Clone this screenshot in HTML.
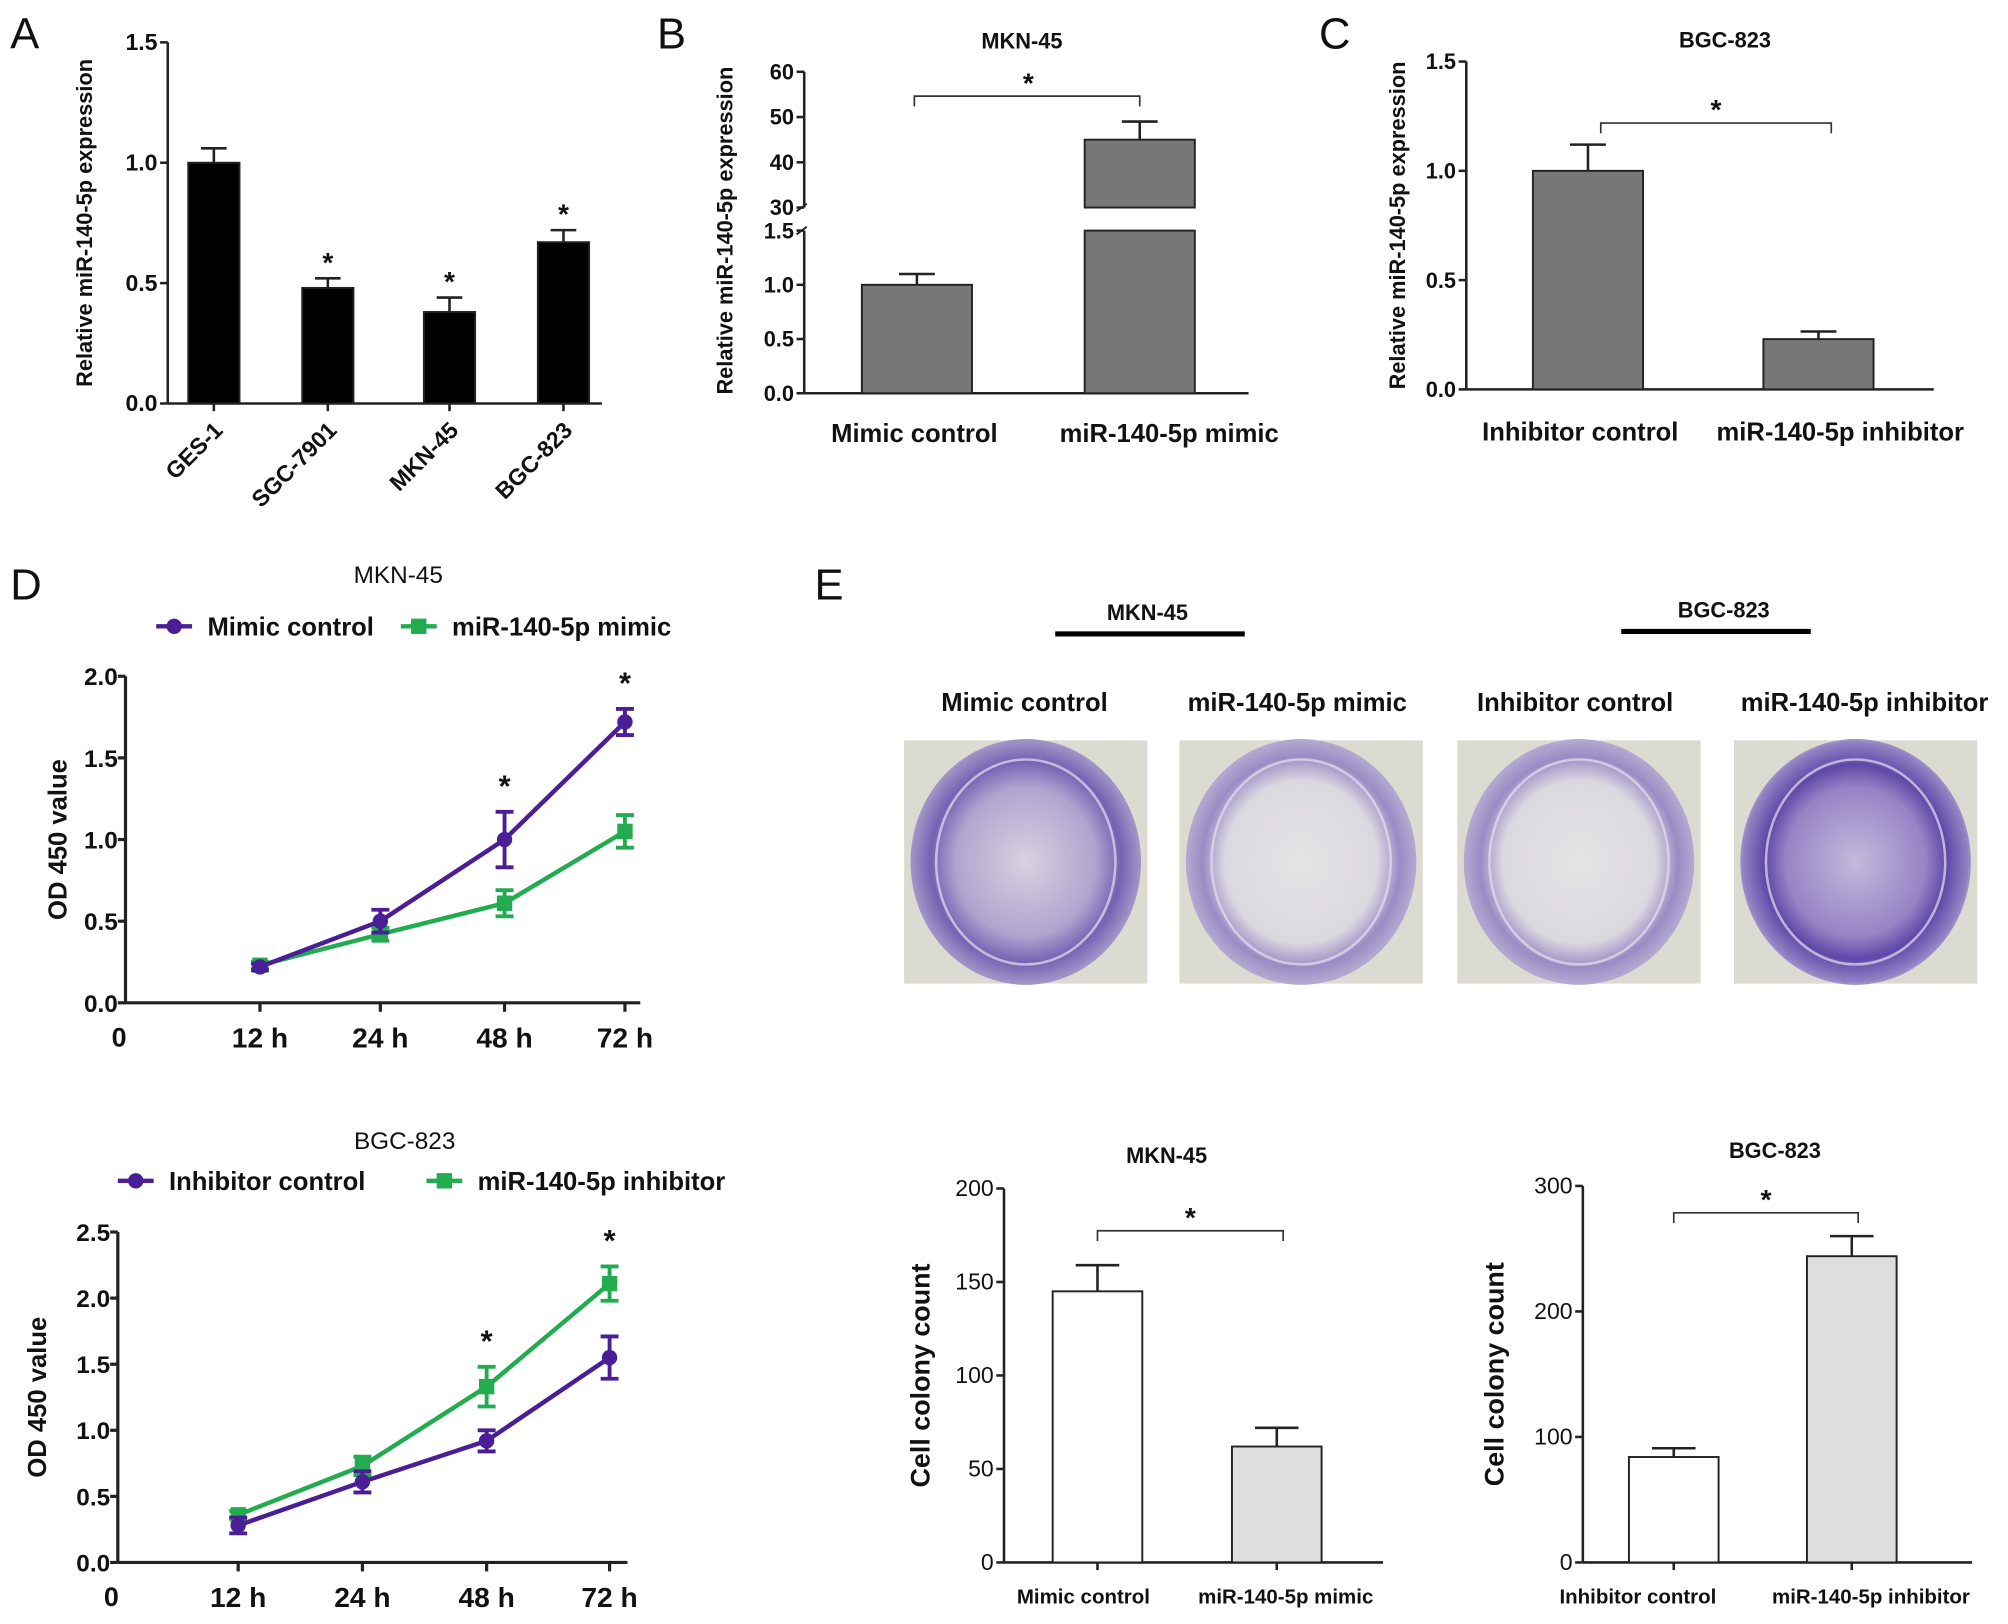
<!DOCTYPE html>
<html><head><meta charset="utf-8"><style>
html,body{margin:0;padding:0;background:#fff;}
svg{display:block;font-family:"Liberation Sans",Arial,sans-serif;}
</style></head><body>
<svg id="fig" width="2008" height="1624" viewBox="0 0 1568 1268" xmlns="http://www.w3.org/2000/svg">
<defs>
<radialGradient id="dishA" cx="50%" cy="50%" r="55%"><stop offset="0" stop-color="#d8d2e0"/><stop offset="0.55" stop-color="#b0a4cf"/><stop offset="0.75" stop-color="#7462b3"/><stop offset="0.9" stop-color="#a094c6"/><stop offset="1" stop-color="#cfcbd6"/></radialGradient>
<radialGradient id="dishB" cx="50%" cy="50%" r="55%"><stop offset="0" stop-color="#e6e3e6"/><stop offset="0.6" stop-color="#dcd8e0"/><stop offset="0.78" stop-color="#9a8cc4"/><stop offset="0.9" stop-color="#b2a8d0"/><stop offset="1" stop-color="#d6d4d2"/></radialGradient>
<radialGradient id="dishC" cx="50%" cy="50%" r="55%"><stop offset="0" stop-color="#c4b9dc"/><stop offset="0.55" stop-color="#9684c5"/><stop offset="0.72" stop-color="#5f48a8"/><stop offset="0.88" stop-color="#8f80c2"/><stop offset="1" stop-color="#d2cfd8"/></radialGradient>
</defs>
<g id="root"></g>
</svg>
<script>
// Panel A
const catsA = ["GES-1","SGC-7901","MKN-45","BGC-823"];
const valsA = [1.0,0.48,0.38,0.67];
const errsA = [0.06,0.04,0.06,0.05];
const sigA = [false,true,true,true];
const ticksA = [0.0,0.5,1.0,1.5];
// Panel B
const catsB = ["Mimic control","miR-140-5p mimic"];
const valsB = [1.0,45];
const errsB = [0.1,4];
const ticksBlow = [0.0,0.5,1.0,1.5];
const ticksBhigh = [30,40,50,60];
// Panel C
const catsC = ["Inhibitor control","miR-140-5p inhibitor"];
const valsC = [1.0,0.23];
const errsC = [0.12,0.035];
const ticksC = [0.0,0.5,1.0,1.5];
// Panel D top
const timesD = ["12 h","24 h","48 h","72 h"];
const d1Purple = [0.22,0.50,1.00,1.72];
const d1PurpleErr = [0.02,0.07,0.17,0.08];
const d1Green = [0.23,0.42,0.61,1.05];
const d1GreenErr = [0.02,0.04,0.08,0.10];
const d1Sig = [false,false,true,true];
const ticksD1 = [0.0,0.5,1.0,1.5,2.0];
// Panel D bottom
const d2Purple = [0.28,0.61,0.92,1.55];
const d2PurpleErr = [0.06,0.08,0.08,0.16];
const d2Green = [0.36,0.73,1.33,2.11];
const d2GreenErr = [0.03,0.07,0.15,0.13];
const d2Sig = [false,false,true,true];
const ticksD2 = [0.0,0.5,1.0,1.5,2.0,2.5];
// Panel E bars
const catsE1 = ["Mimic control","miR-140-5p mimic"];
const valsE1 = [145,62];
const errsE1 = [14,10];
const ticksE1 = [0,50,100,150,200];
const catsE2 = ["Inhibitor control","miR-140-5p inhibitor"];
const valsE2 = [84,244];
const errsE2 = [7,16];
const ticksE2 = [0,100,200,300];

const NS="http://www.w3.org/2000/svg";
const root=document.getElementById('root');
function el(tag,attrs,parent,text){const e=document.createElementNS(NS,tag);for(const k in attrs)e.setAttribute(k,attrs[k]);if(text!==undefined)e.textContent=text;(parent||root).appendChild(e);return e;}
function txt(x,y,s,size,opts,parent){opts=opts||{};const t=el('text',{x:x,y:y,'font-size':size,'text-anchor':opts.anchor||'middle','font-weight':opts.bold?'bold':'normal',fill:'#111'},parent,s);if(opts.rot)t.setAttribute('transform','rotate('+opts.rot+' '+x+' '+y+')');if(opts.len){t.setAttribute('textLength',opts.len);t.setAttribute('lengthAdjust','spacingAndGlyphs');}return t;}
function line(x1,y1,x2,y2,parent,w,c){return el('line',{x1,y1,x2,y2,stroke:c||'#222','stroke-width':w||2},parent);}
function errbar(x,y1,y2,hw,parent,c,w){line(x,y1,x,y2,parent,w||2,c);line(x-hw,y2,x+hw,y2,parent,w||2,c);}

function panelLabel(s,x,y){const t=txt(x,y,s,34,{anchor:'start'});}
panelLabel('A',8,38);panelLabel('B',513,38);panelLabel('C',1030,38);panelLabel('D',8,468);panelLabel('E',636,468);

function barChart(o){
  const g=el('g',{});
  
  
  const ys=v=>o.y0-(v-o.vmin)/(o.vmax-o.vmin)*(o.y0-o.ytop);
  line(o.ax,o.ytop,o.ax,o.y0,g);
  line(o.ax,o.y0,o.xend,o.y0,g);
  o.ticks.forEach(t=>{const y=ys(t);line(o.ax-6,y,o.ax,y,g);const tl=txt(o.ax-8,y+6,o.fmt(t),o.tfs||16,{anchor:'end',bold:o.tbold},g);});
  o.cats.forEach((c,i)=>{
    const cx=o.cx[i],v=o.vals[i];
    const r=el('rect',{x:cx-o.bw/2,y:ys(v),width:o.bw,height:o.y0-ys(v),fill:o.fills[i],stroke:'#222','stroke-width':1.5},g);
    
    
    errbar(cx,ys(v),ys(v+o.errs[i]),o.ew||10,g);
    if(o.xtick) line(cx,o.y0,cx,o.y0+6,g);
    const lx=o.lx?o.lx[i]:cx;
    const lab=o.rot?txt(cx+8,o.y0+22,c,18,{anchor:'end',bold:true,rot:-45},g):txt(lx,o.ly,c,o.lfs||19,{bold:true},g);
    
    
    if(o.sig&&o.sig[i]){const s=txt(cx,ys(v+o.errs[i])-5,'*',22,{bold:true},g);}
  });
  const yl=txt(o.ylx,(o.ytop+o.y0)/2,o.ylabel,o.ylfs||17,{bold:true,rot:-90},g);
  
  if(o.title){const t=txt(o.title[0],o.title[1],o.title[2],17,{bold:true},g);}
  if(o.bracket){const b=o.bracket;const p=el('path',{d:`M${b[0]},${b[2]+8}V${b[2]}H${b[1]}V${b[2]+8}`,fill:'none',stroke:'#333','stroke-width':1.3},g);txt((b[0]+b[1])/2,b[2]-3,'*',22,{bold:true},g);}
  return ys;
}

barChart({name:'chart-a',cats:catsA,vals:valsA,errs:errsA,sig:sigA,ticks:ticksA,fmt:t=>t.toFixed(1),vmin:0,vmax:1.5,ax:131,ytop:33,y0:315,xend:470,cx:[167,256,351,440],bw:40,fills:['#000','#000','#000','#000'],ew:10,xtick:true,rot:true,ylx:72,ylabel:'Relative miR-140-5p expression',tbold:true,tfs:18});

(function(){
  const g=el('g',{});
  
  
  const ax=628;
  const yl=v=>307-v/1.5*(307-180);
  const yh=v=>162-(v-30)/30*(162-56);
  line(ax,56,ax,162,g);line(ax,180,ax,307,g);line(ax,307,975,307,g);
  line(ax-6,165,ax+2,159,g,1.5);line(ax-6,183,ax+2,177,g,1.5);
  ticksBlow.forEach(t=>{line(ax-6,yl(t),ax,yl(t),g);txt(ax-8,yl(t)+6,t.toFixed(1),17,{anchor:'end',bold:true},g);});
  ticksBhigh.forEach(t=>{line(ax-6,yh(t),ax,yh(t),g);txt(ax-8,yh(t)+6,String(t),17,{anchor:'end',bold:true},g);});
  const cx=[716,890];
  const lxB=[714,913];
  catsB.forEach((c,i)=>{
    const v=valsB[i],e=errsB[i];
    let r;
    if(v<=1.5){r=el('rect',{x:cx[i]-43,y:yl(v),width:86,height:307-yl(v),fill:'#777',stroke:'#222','stroke-width':1.5},g);errbar(cx[i],yl(v),yl(v+e),14,g);}
    else{r=el('rect',{x:cx[i]-43,y:yh(v),width:86,height:162-yh(v),fill:'#777',stroke:'#222','stroke-width':1.5},g);
      const r2=el('rect',{x:cx[i]-43,y:180,width:86,height:127,fill:'#777',stroke:'#222','stroke-width':1.5},g);
      
      errbar(cx[i],yh(v),yh(v+e),14,g);}
    
    
    const l=txt(lxB[i],345,c,20,{bold:true},g);
  });
  const t=txt(798,38,'MKN-45',17,{bold:true},g);
  const p=el('path',{d:'M714,83V75H890V83',fill:'none',stroke:'#333','stroke-width':1.3},g);
  txt(803,72,'*',22,{bold:true},g);
  const y=txt(572,180,'Relative miR-140-5p expression',17,{bold:true,rot:-90},g);
})();

barChart({name:'chart-c',cats:catsC,vals:valsC,errs:errsC,ticks:ticksC,fmt:t=>t.toFixed(1),vmin:0,vmax:1.5,ax:1145,ytop:48,y0:304,xend:1510,cx:[1240,1420],lx:[1234,1437],bw:86,fills:['#777','#777'],ew:14,ly:344,lfs:20,ylx:1097,ylabel:'Relative miR-140-5p expression',tbold:true,tfs:17,title:[1347,37,'BGC-823'],bracket:[1250,1430,96]});

function lineChart(o){
  const g=el('g',{});
  
  
  const ys=v=>o.y0-v/o.vmax*(o.y0-o.ytop);
  line(o.ax,o.ytop,o.ax,o.y0,g,2.5);line(o.ax,o.y0,o.xend,o.y0,g,2.5);
  o.ticks.forEach(t=>{line(o.ax-6,ys(t),o.ax,ys(t),g,2.5);const l=txt(o.ax-6,ys(t)+7,t.toFixed(1),19,{anchor:'end',bold:true},g);});
  txt(o.ax-5,o.y0+34,'0',21,{bold:true},g);
  timesD.forEach((t,i)=>{line(o.xs[i],o.y0,o.xs[i],o.y0+7,g,2.5);const l=txt(o.xs[i],o.y0+35,t,22,{bold:true},g);});
  [[o.green,o.gerr,'#22ab4f','sq','green'],[o.purple,o.perr,'#4a1e96','dot','purple']].forEach(s=>{
    const pts=s[0].map((v,i)=>o.xs[i]+','+ys(v)).join(' ');
    const pl=el('polyline',{points:pts,fill:'none',stroke:s[2],'stroke-width':3.5},g);
    
    s[0].forEach((v,i)=>{const x=o.xs[i];line(x,ys(v-s[1][i]),x,ys(v+s[1][i]),g,3,s[2]);line(x-7,ys(v-s[1][i]),x+7,ys(v-s[1][i]),g,3,s[2]);line(x-7,ys(v+s[1][i]),x+7,ys(v+s[1][i]),g,3,s[2]);
      const m=s[3]==='sq'?el('rect',{x:x-6,y:ys(v)-6,width:12,height:12,fill:s[2]},g):el('circle',{cx:x,cy:ys(v),r:6,fill:s[2]},g);
      });
  });
  o.sig.forEach((sg,i)=>{if(sg){const top=Math.max(o.purple[i]+o.perr[i],o.green[i]+o.gerr[i]);const s=txt(o.xs[i],ys(top)-12,'*',24,{bold:true},g);}});
  const yl=txt(o.ylx,(o.ytop+o.y0)/2,'OD 450 value',20,{bold:true,rot:-90},g);
  const t=txt(o.title[0],o.title[1],o.title[2],19,{},g);
  const L=o.leg;
  const l1=el('g',{},g);
  line(L[0],L[1],L[0]+28,L[1],l1,3.5,'#4a1e96');el('circle',{cx:L[0]+14,cy:L[1],r:6,fill:'#4a1e96'},l1);txt(L[0]+40,L[1]+7,o.names[0],20,{anchor:'start',bold:true},l1);
  const l2=el('g',{},g);
  line(L[2],L[1],L[2]+28,L[1],l2,3.5,'#22ab4f');el('rect',{x:L[2]+8,y:L[1]-6,width:12,height:12,fill:'#22ab4f'},l2);txt(L[2]+40,L[1]+7,o.names[1],20,{anchor:'start',bold:true},l2);
}
lineChart({name:'chart-d-mkn45',purple:d1Purple,perr:d1PurpleErr,green:d1Green,gerr:d1GreenErr,sig:d1Sig,ticks:ticksD1,vmax:2.0,ax:98,ytop:528,y0:783,xend:500,xs:[203,297,394,488],ylx:52,title:[311,455,'MKN-45'],leg:[122,489,313],names:['Mimic control','miR-140-5p mimic']});
lineChart({name:'chart-d-bgc823',purple:d2Purple,perr:d2PurpleErr,green:d2Green,gerr:d2GreenErr,sig:d2Sig,ticks:ticksD2,vmax:2.5,ax:92,ytop:962,y0:1220,xend:490,xs:[186,283,380,476],ylx:36,title:[316,897,'BGC-823'],leg:[92,922,333],names:['Inhibitor control','miR-140-5p inhibitor']});

(function(){
  const g=el('g',{});
  
  
  const hdr=[[896,484,'MKN-45',824,972,495],[1346,482,'BGC-823',1266,1414,493]];
  hdr.forEach(h=>{const t=txt(h[0],h[1],h[2],17,{bold:true},g);line(h[3],h[5],h[4],h[5],g,4,'#000');});
  const labs=[[800,'Mimic control'],[1013,'miR-140-5p mimic'],[1230,'Inhibitor control'],[1456,'miR-140-5p inhibitor']];
  labs.forEach(l=>{const t=txt(l[0],555,l[1],20,{bold:true},g);});
  const xs=[706,921,1138,1354],fills=['url(#dishA)','url(#dishB)','url(#dishB)','url(#dishC)'];
  xs.forEach((x,i)=>{const p=el('g',{},g);
    el('rect',{x:x,y:578,width:190,height:190,fill:'#dcdbd2'},p);
    el('ellipse',{cx:x+95,cy:673,rx:90,ry:96,fill:fills[i]},p);
    el('ellipse',{cx:x+95,cy:673,rx:70,ry:80,fill:'none',stroke:'#e4e0ee','stroke-width':2,opacity:0.7},p);});
})();

barChart({name:'chart-e-mkn45',cats:catsE1,vals:valsE1,errs:errsE1,ticks:ticksE1,fmt:t=>String(t),vmin:0,vmax:200,ax:784,ytop:928,y0:1220,xend:1080,cx:[857,997],lx:[846,1004],bw:70,fills:['#fff','#dedede'],ew:17,xtick:true,ly:1252,lfs:16,ylx:726,ylabel:'Cell colony count',ylfs:21,tfs:18,title:[911,908,'MKN-45'],bracket:[857,1002,961]});
barChart({name:'chart-e-bgc823',cats:catsE2,vals:valsE2,errs:errsE2,ticks:ticksE2,fmt:t=>String(t),vmin:0,vmax:300,ax:1236,ytop:926,y0:1220,xend:1540,cx:[1307,1446],lx:[1279,1461],bw:70,fills:['#fff','#dedede'],ew:17,xtick:true,ly:1252,lfs:16,ylx:1174,ylabel:'Cell colony count',ylfs:21,tfs:18,title:[1386,904,'BGC-823'],bracket:[1307,1451,947]});
</script>
</body></html>
